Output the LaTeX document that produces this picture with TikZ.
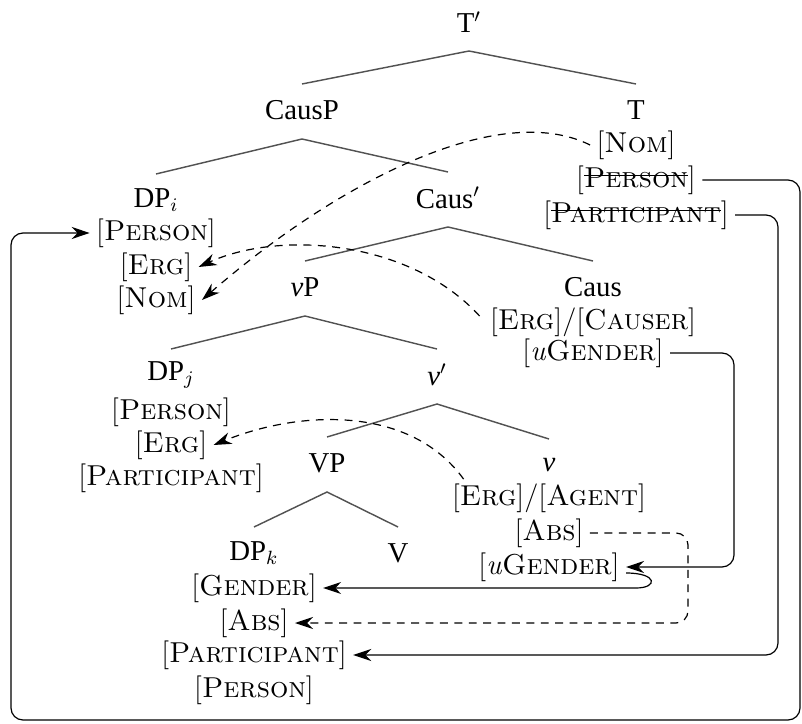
\documentclass[tikz,border=0pt]{standalone}
\usepackage{fontspec}
\newfontfamily\tms{Liberation Serif}
\usetikzlibrary{calc,arrows.meta}
\newcommand\strk[1]{\setbox0=\hbox{#1}\rlap{\rule[0.38em]{\wd0}{0.45pt}}\box0}
\begin{document}
\begin{tikzpicture}[x=0.41667pt,y=-0.41667pt,
  lab/.style={font=\tms\fontsize{12}{14}\selectfont, inner sep=2.5pt},
  feat/.style={font=\fontsize{12}{14}\selectfont, inner sep=2.5pt},
  branch/.style={draw=black!68, line width=0.6pt},
  conn/.style={draw=black, line width=0.5pt, -{Stealth[length=7.5pt,width=5pt,inset=2.4pt]}},
  rc/.style={rounded corners=5pt},
  dsh/.style={dash pattern=on 3.3pt off 2.7pt}]
\useasboundingbox (0,0) rectangle (802,724);

% category labels
\node[lab] (Tbar)  at (469,22)  {T$'$};
\node[lab] (CausP) at (302,110) {CausP};
\node[lab] (T)     at (636,110) {T};
\node[lab] (DPi)   at (156,200) {DP$_i$};
\node[lab] (Causb) at (448,198) {Caus$'$};
\node[lab] (vP)    at (305,287) {{\itshape v}P};
\node[lab] (Caus)  at (593,287) {Caus};
\node[lab] (DPj)   at (171,375) {DP$_j$};
\node[lab] (vb)    at (437,375) {{\itshape v}$'$};
\node[lab] (VP)    at (327,463) {VP};
\node[lab] (v)     at (549,465) {{\itshape v}};
\node[lab] (DPk)   at (254,553) {DP$_k$};
\node[lab] (V)     at (398,553) {V};

% features
\node[feat] (Tnom)   at (636,145) {[\textsc{Nom}]};
\node[feat] (Tper)   at (636,180) {[\strk{\textsc{Person}}]};
\node[feat] (Tpart)  at (636,215) {[\strk{\textsc{Participant}}]};
\node[feat] (DPiper) at (156,233) {[\textsc{Person}]};
\node[feat] (DPierg) at (156,267) {[\textsc{Erg}]};
\node[feat] (DPinom) at (156,300) {[\textsc{Nom}]};
\node[feat] (EC)     at (593,322) {[\textsc{Erg}]/[\textsc{Causer}]};
\node[feat] (CausuG) at (593,353) {[\textit{u}\textsc{Gender}]};
\node[feat] (DPjper) at (171,412) {[\textsc{Person}]};
\node[feat] (DPjerg) at (171,445) {[\textsc{Erg}]};
\node[feat] (DPjpart) at (171,478) {[\textsc{Participant}]};
\node[feat] (vEA)    at (549,498) {[\textsc{Erg}]/[\textsc{Agent}]};
\node[feat] (vabs)   at (549,533) {[\textsc{Abs}]};
\node[feat] (vuG)    at (549,567) {[\textit{u}\textsc{Gender}]};
\node[feat] (DPkgen) at (254,588) {[\textsc{Gender}]};
\node[feat] (DPkabs) at (254,623) {[\textsc{Abs}]};
\node[feat] (DPkpart) at (254,655) {[\textsc{Participant}]};
\node[feat] (DPkper) at (254,690) {[\textsc{Person}]};

% branches
\draw[branch] ($(CausP)+(0,-26)$) -- ($(Tbar)+(0,29)$) -- ($(T)+(0,-26)$);
\draw[branch] ($(DPi)+(0,-26)$) -- ($(CausP)+(0,29)$) -- ($(Causb)+(0,-26)$);
\draw[branch] ($(vP)+(0,-26)$) -- ($(Causb)+(0,29)$) -- ($(Caus)+(0,-26)$);
\draw[branch] ($(DPj)+(0,-26)$) -- ($(vP)+(0,29)$) -- ($(vb)+(0,-26)$);
\draw[branch] ($(VP)+(0,-26)$) -- ($(vb)+(0,29)$) -- ($(v)+(0,-26)$);
\draw[branch] ($(DPk)+(0,-26)$) -- ($(VP)+(0,29)$) -- ($(V)+(0,-26)$);

% helper coordinates
\coordinate (xR) at (800,0);
\coordinate (xL) at (11,0);
\coordinate (yB) at (0,720);
\coordinate (x778) at (778,0);
\coordinate (x734) at (734,0);
\coordinate (x688) at (688,0);
\coordinate (x636) at (636,0);

% dashed curved connectors
\draw[conn,dsh] (Tnom.west) .. controls (500,100) and (340,180) .. (DPinom.east);
\draw[conn,dsh] ($(EC.west)+(-4,-6)$) .. controls (410,240) and (280,230) .. (DPierg.east);
\draw[conn,dsh] ($(vEA.north west)+(18,2)$) .. controls (410,405) and (300,410) .. (DPjerg.east);

% solid elbow connectors
\draw[conn,rc] (Tper.east) -- (Tper.east -| xR) -- (xR |- yB) -- (xL |- yB) -- (xL |- DPiper.west) -- (DPiper.west);
\draw[conn,rc] (Tpart.east) -- (Tpart.east -| x778) -- (DPkpart.east -| x778) -- (DPkpart.east);
\draw[conn,rc] (CausuG.east) -- (CausuG.east -| x734) -- (vuG.east -| x734) -- (vuG.east);
\draw[conn] ($(vuG.east)+(0,6)$) .. controls +(32,0) and +(22,0) .. (DPkgen.east -| x636) -- (DPkgen.east);
\draw[conn,dsh,rc] (vabs.east) -- (vabs.east -| x688) -- (DPkabs.east -| x688) -- (DPkabs.east);
\end{tikzpicture}
\end{document}
